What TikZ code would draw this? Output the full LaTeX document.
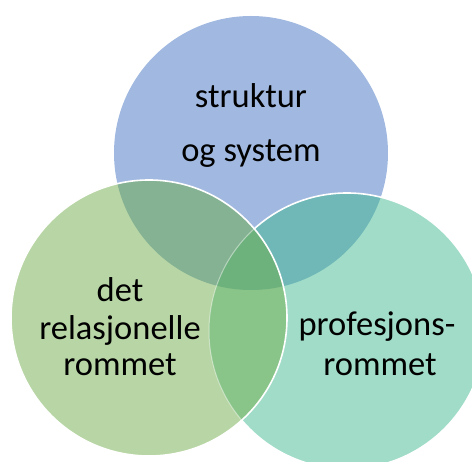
\documentclass[tikz,border=0pt]{standalone}
\usepackage{fontspec}
\setmainfont{Carlito}
\definecolor{cT}{HTML}{A1B9E0}
\definecolor{cL}{HTML}{B8D6A5}
\definecolor{cR}{HTML}{A0DCC8}
\definecolor{cTL}{HTML}{86B294}
\definecolor{cTR}{HTML}{6FB8B7}
\definecolor{cLR}{HTML}{89C489}
\definecolor{cTLR}{HTML}{6DB17D}
\begin{document}
\begin{tikzpicture}[x=1pt,y=-1pt,
  lbl/.style={font=\fontsize{34.5}{38}\selectfont, inner sep=0pt, anchor=base},
  edge/.style={draw=white, line width=1.6pt}]
\useasboundingbox (0,0) rectangle (472,462);
\def\T{(251,153) circle[radius=137]}
\def\L{(149,318) circle[radius=138]}
\def\R{(347,331) circle[radius=138]}
% single regions
\fill[cT] \T;
\fill[cR] \R;
\begin{scope}\clip \T; \fill[cTR] \R; \end{scope}
\draw[edge] \R;
\fill[cL] \L;
\begin{scope}\clip \L; \fill[cTL] \T; \end{scope}
\begin{scope}\clip \L; \fill[cLR] \R; \end{scope}
\begin{scope}\clip \L; \clip \T; \fill[cTLR] \R; \end{scope}
\begin{scope}\clip \L; \draw[white, opacity=0.45, line width=1pt] \R; \end{scope}
\draw[edge] \L;
% labels
\node[lbl] (t1) at (251,108) {struktur};
\node[lbl] (t2) at (251,162) {og system};
\node[lbl] (l1) at (120,302) {det};
\node[lbl] (l2) at (120,340) {relasjonelle};
\node[lbl] (l3) at (120,376) {rommet};
\node[lbl] (r1) at (377,336) {profesjons-};
\node[lbl] (r2) at (380,376) {rommet};
\end{tikzpicture}
\end{document}
